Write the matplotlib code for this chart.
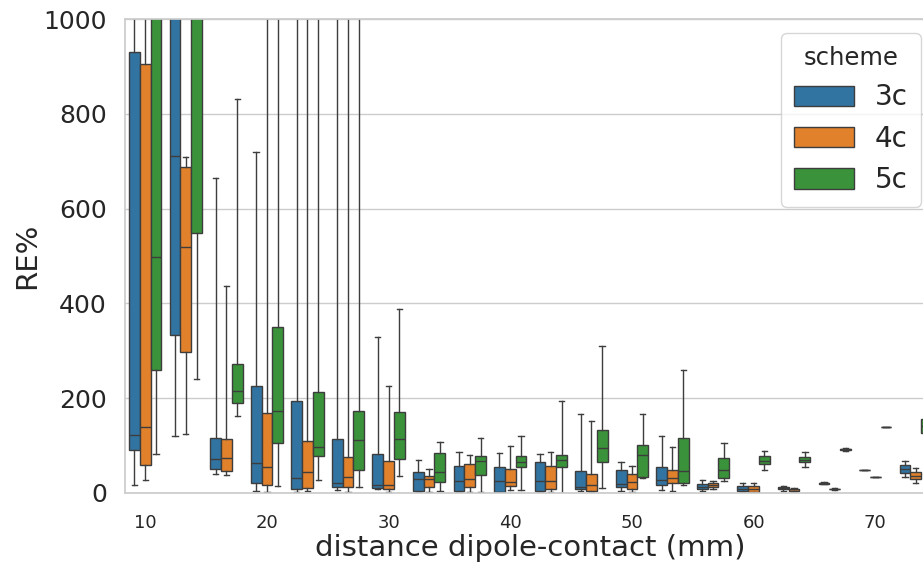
import matplotlib

matplotlib.use("Agg")
import matplotlib.pyplot as plt
from matplotlib.patches import Patch

# distance bins (mm) and the three electrode schemes
distance = [10.0, 13.33, 16.67, 20.0, 23.33, 26.67, 30.0, 33.33, 36.67, 40.0,
            43.33, 46.67, 50.0, 53.33, 56.67, 60.0, 63.33, 66.67, 70.0, 73.33]
schemes = ["3c", "4c", "5c"]
colors = ["#3274a1", "#e1812c", "#3a923a"]
xticks = [10, 20, 30, 40, 50, 60, 70]

# box stats per scheme: lower whisker, Q1, median, Q3, upper whisker (RE%)
lo_3c = [16, 120, 39, 3.5, 2, 6, 8, 2, 1, 1, 1, 3.5, 4, 6.3, 3.5, 1.4, 3, 18, 48.6, 32.4]
q1_3c = [90, 333, 50, 20, 8, 13, 9, 4, 4, 2, 3, 8, 12.7, 15.5, 7, 4.2, 7, 19, 48.6, 41]
med_3c = [122, 712, 72, 62, 32, 20, 16, 28, 25, 24, 25, 11, 17.6, 26, 12.7, 8.4, 10, 20, 48.6, 50]
q3_3c = [930, 1150, 116, 226, 194, 113, 81, 43, 57, 54, 65, 45, 49, 54, 17.6, 14.8, 12.7, 21, 48.6, 58.4]
hi_3c = [1800, 1900, 665, 719, 1500, 1400, 329, 70, 87, 84, 82, 167, 65.5, 119, 26, 19.7, 15, 23, 48.6, 67.6]

lo_4c = [26, 125, 37, 1, 4, 2, 1.5, 1.5, 1.5, 6, 1.5, 2, 2, 4, 7, 0, 1.4, 6.5, 34, 19.7]
q1_4c = [58, 298, 46, 17, 9, 11, 7, 11, 13, 15, 7, 4, 7, 21, 11, 0.7, 2.8, 7.5, 34, 28]
med_4c = [139, 518, 74, 53.5, 44, 34, 16, 28, 28, 22, 24, 16, 22, 31, 15.5, 7, 4.2, 8, 34, 36]
q3_4c = [905, 687, 113, 168, 110, 76, 67, 36, 60.5, 51, 56, 39, 39, 49, 19.7, 14, 7, 8.5, 34, 43]
hi_4c = [1800, 710, 436, 1500, 1500, 1400, 225, 51, 80, 99, 87, 151, 57, 97, 24.6, 19.7, 10.6, 9.5, 34, 51.4]

lo_5c = [82, 240, 162, 15, 27, 11, 34.5, 4, 1.5, 5, 0, 10, 30, 16, 24, 48, 54, 89, 139.4, 118]
q1_5c = [259, 549, 189, 106, 77, 49, 71, 22, 38, 53.5, 53.5, 65.5, 34, 21, 32, 60.5, 64, 90.5, 139.4, 127]
med_5c = [497, 1100, 215, 172, 96, 111, 113, 43, 68, 64, 70, 94, 79, 46, 49, 68, 70, 91.5, 139.4, 140]
q3_5c = [1500, 1600, 272, 351, 213, 173, 170, 83, 77, 77, 79, 133, 100, 116, 73, 77, 76, 92.5, 139.4, 155]
hi_5c = [2000, 2000, 831, 1500, 1500, 1400, 388, 108, 116, 120, 193, 310, 167, 260, 104, 88, 85, 94, 139.4, 165]

stats = {
    "3c": (lo_3c, q1_3c, med_3c, q3_3c, hi_3c),
    "4c": (lo_4c, q1_4c, med_4c, q3_4c, hi_4c),
    "5c": (lo_5c, q1_5c, med_5c, q3_5c, hi_5c),
}

W, H = 923, 563
edge = "#3d3d3d"
text_color = "#262626"
plt.rcParams["font.family"] = "DejaVu Sans"

fig = plt.figure(figsize=(W / 100, H / 100), dpi=100)
ax = fig.add_axes([125 / W, 1 - 492.7 / H, (936 - 125) / W, (492.7 - 19.3) / H])

step = distance[1] - distance[0]
box_w = 0.8 * step / len(schemes)
for k, (name, color) in enumerate(zip(schemes, colors)):
    lo, q1, med, q3, hi = stats[name]
    bxp_stats = [
        {"whislo": a, "q1": b, "med": c, "q3": d, "whishi": e}
        for a, b, c, d, e in zip(lo, q1, med, q3, hi)
    ]
    pos = [x + (k - 1) * box_w for x in distance]
    ax.bxp(
        bxp_stats,
        positions=pos,
        widths=box_w,
        patch_artist=True,
        showfliers=False,
        manage_ticks=False,
        boxprops=dict(facecolor=color, edgecolor=edge, linewidth=1.0),
        medianprops=dict(color=edge, linewidth=1.0),
        whiskerprops=dict(color=edge, linewidth=1.0),
        capprops=dict(color=edge, linewidth=1.0),
    )

ax.set_xlim(distance[0] - step / 2, distance[-1] + step / 2)
ax.set_ylim(0, 1000)
ax.set_xticks(xticks)
ax.set_xticklabels([str(t) for t in xticks])
ax.set_yticks([0, 200, 400, 600, 800, 1000])

ax.grid(True, axis="y", color="#cccccc", linewidth=1.0)
ax.set_axisbelow(True)
for spine in ax.spines.values():
    spine.set_color("#cccccc")
    spine.set_linewidth(1.25)

ax.tick_params(axis="y", length=0, pad=13, labelsize=18, labelcolor=text_color)
ax.tick_params(axis="x", length=0, pad=15.5, labelsize=13, labelcolor=text_color)
ax.set_xlabel("distance dipole-contact (mm)", fontsize=21, color=text_color, labelpad=1)
ax.set_ylabel("RE%", fontsize=21, color=text_color, labelpad=2)

handles = [Patch(facecolor=c, edgecolor=edge, linewidth=1.0, label=s)
           for s, c in zip(schemes, colors)]
leg = ax.legend(
    handles=handles,
    title="scheme",
    loc="upper right",
    bbox_to_anchor=(920.7 / W, 1 - 33.3 / H),
    bbox_transform=fig.transFigure,
    borderaxespad=0,
    fontsize=20,
    title_fontsize=17.5,
    handlelength=2.16,
    handleheight=0.75,
    labelspacing=0.48,
    handletextpad=0.75,
    borderpad=0.46,
    frameon=True,
    fancybox=True,
)
leg.get_frame().set_edgecolor("#cccccc")
leg.get_title().set_color(text_color)
for t in leg.get_texts():
    t.set_color(text_color)

fig.savefig("out.png", dpi=100)
